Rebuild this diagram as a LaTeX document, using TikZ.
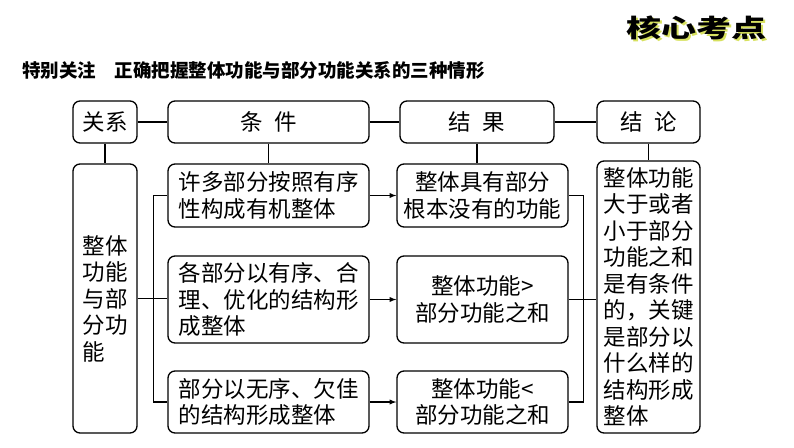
\documentclass[tikz,border=0pt]{standalone}
\usepackage{fontspec}
\setmainfont{Noto Sans CJK SC}
\usepackage{tikz}
\tikzset{>=latex}
\definecolor{shadowyellow}{RGB}{215,225,95}

\tikzset{
  box/.style={draw, line width=1.3pt, rounded corners=7pt, inner sep=2pt,
              font=\fontsize{22.5}{26.5}\selectfont},
  headbox/.style={box, minimum height=42pt},
  link/.style={line width=1.3pt},
}
\newcommand{\badgetext}{\scalebox{1.4}[1]{核心考点}}

\begin{document}
\begin{tikzpicture}[x=1pt, y=-1pt]
  \useasboundingbox (0,0) rectangle (794,447);

  % corner badge and title
  \node[font=\fontsize{25}{25}\bfseries\selectfont] (badge) at (696,29)
    {\rlap{\kern2pt\raisebox{-2pt}{\textcolor{shadowyellow}{\badgetext}}}\badgetext};
  \node[anchor=west, inner sep=0pt, font=\fontsize{18.5}{20}\bfseries\selectfont] (title) at (22,70)
    {特别关注\hspace{1em}正确把握整体功能与部分功能关系的三种情形};

  % header row
  \node[headbox, minimum width=64pt]  (hrel)  at (105,122)   {关系};
  \node[headbox, minimum width=201pt] (hcond) at (268.5,122) {条\hspace{0.5em}件};
  \node[headbox, minimum width=154pt] (hres)  at (477,122)   {结\hspace{0.5em}果};
  \node[headbox, minimum width=103pt] (hcon)  at (648.5,122) {结\hspace{0.5em}论};

  % relation column
  \node[box, minimum width=64pt, minimum height=269pt, align=left] (rel) at (105,298.5)
    {整体\\功能\\与部\\分功\\能};

  % conditions
  \node[box, minimum width=201pt, minimum height=63pt, align=left] (c1) at (268.5,195.5)
    {许多部分按照有序\\性构成有机整体};
  \node[box, minimum width=201pt, minimum height=87pt, align=left] (c2) at (268.5,299.5)
    {各部分以有序、合\\理、优化的结构形\\成整体};
  \node[box, minimum width=201pt, minimum height=62pt, align=left] (c3) at (268.5,402)
    {部分以无序、欠佳\\的结构形成整体};

  % results
  \node[box, minimum width=171pt, minimum height=63pt, align=center] (r1) at (482.5,195.5)
    {整体具有部分\\根本没有的功能};
  \node[box, minimum width=171pt, minimum height=87pt, align=center] (r2) at (482.5,299.5)
    {整体功能>\\部分功能之和};
  \node[box, minimum width=171pt, minimum height=62pt, align=center] (r3) at (482.5,402)
    {整体功能<\\部分功能之和};

  % conclusion
  \node[box, minimum width=103pt, minimum height=272pt, align=left] (con) at (648.5,297)
    {整体功能\\大于或者\\小于部分\\功能之和\\是有条件\\的，关键\\是部分以\\什么样的\\结构形成\\整体};

  % header links
  \draw[link] (hrel) -- (hcond);
  \draw[link] (hcond) -- (hres);
  \draw[link] (hres) -- (hcon);
  \draw[link] (hrel) -- (rel);
  \draw[link] (hcond) -- (c1);
  \draw[link] (hres.south) -- (hres.south |- r1.north);
  \draw[link] (hcon) -- (con);

  % left bracket
  \draw[link] (c1.west) -- ++(-14,0) |- (c3.west);
  \draw[link] (rel.east) -- (rel.east -| c2.west);

  % arrows
  \draw[link, ->] (c1) -- (r1);
  \draw[link, ->] (c2) -- (r2);
  \draw[link, ->] (c3) -- (r3);

  % right bracket
  \draw[link] (r1.east) -- ++(15,0) |- (r3.east);
  \draw[link] (r2.east) -- (r2.east -| con.west);
\end{tikzpicture}
\end{document}
